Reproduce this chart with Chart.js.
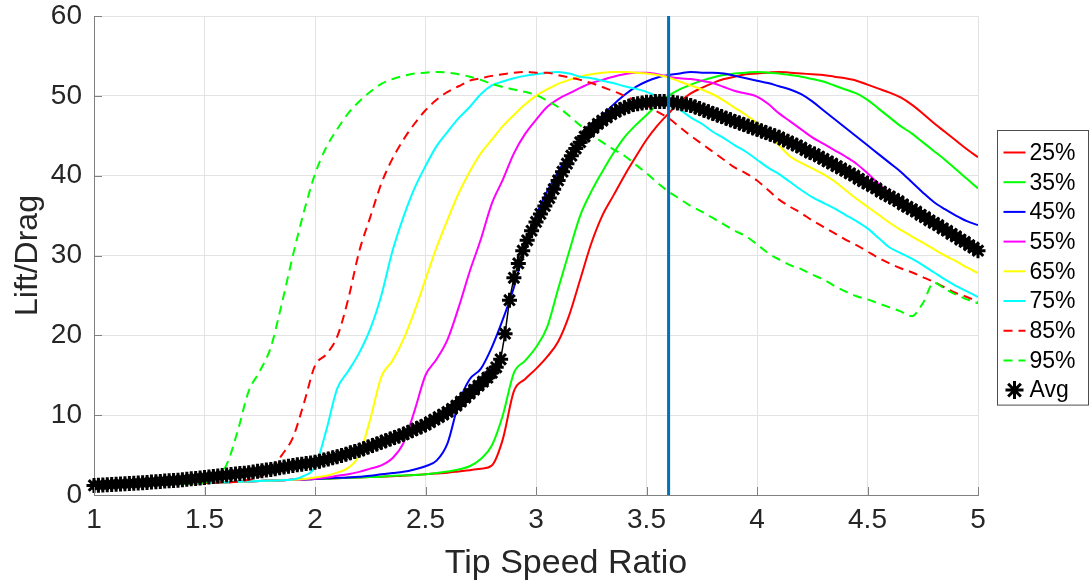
<!DOCTYPE html>
<html>
<head>
<meta charset="utf-8">
<title>Lift/Drag vs Tip Speed Ratio</title>
<script src="https://cdn.jsdelivr.net/npm/chart.js@4.4.1/dist/chart.umd.min.js"></script>
<style>
  html, body { margin: 0; padding: 0; background: #fff; }
  #chart { display: block; }
</style>
</head>
<body>
<canvas id="chart" width="1092" height="585"></canvas>
<script>
// Tip speed ratio samples for the span curves (step 0.05)
const TSR = [
  1.00,1.05,1.10,1.15,1.20,1.25,1.30,1.35,1.40,1.45,
  1.50,1.55,1.60,1.65,1.70,1.75,1.80,1.85,1.90,1.95,
  2.00,2.05,2.10,2.15,2.20,2.25,2.30,2.35,2.40,2.45,
  2.50,2.55,2.60,2.65,2.70,2.75,2.80,2.85,2.90,2.95,
  3.00,3.05,3.10,3.15,3.20,3.25,3.30,3.35,3.40,3.45,
  3.50,3.55,3.60,3.65,3.70,3.75,3.80,3.85,3.90,3.95,
  4.00,4.05,4.10,4.15,4.20,4.25,4.30,4.35,4.40,4.45,
  4.50,4.55,4.60,4.65,4.70,4.75,4.80,4.85,4.90,4.95,
  5.00
];

// Lift/Drag per span position
const L25 = [
  1.0,1.05,1.1,1.15,1.2,1.25,1.3,1.35,1.4,1.45,
  1.5,1.55,1.6,1.65,1.7,1.75,1.8,1.85,1.9,1.95,
  2.0,2.05,2.1,2.15,2.2,2.25,2.3,2.35,2.4,2.5,
  2.6,2.7,2.8,2.95,3.1,3.3,3.7,7.0,13.0,14.5,
  15.8,17.3,19.2,22.5,27.0,31.5,35.0,37.5,40.0,42.3,
  44.5,46.3,47.8,49.2,50.3,51.0,51.6,52.1,52.4,52.7,
  52.8,52.9,53.0,52.9,52.8,52.7,52.6,52.4,52.2,51.9,
  51.4,50.9,50.4,49.8,48.9,47.8,46.6,45.5,44.4,43.3,
  42.3
];
const L35 = [
  1.0,1.05,1.1,1.15,1.2,1.25,1.3,1.35,1.4,1.45,
  1.5,1.55,1.6,1.65,1.7,1.75,1.8,1.85,1.9,1.95,
  2.0,2.05,2.1,2.15,2.2,2.25,2.3,2.4,2.45,2.5,
  2.6,2.75,2.95,3.2,3.6,4.5,6.2,10.0,15.3,16.8,
  18.5,21.0,25.8,30.5,35.0,38.0,40.5,42.8,44.8,46.3,
  47.6,48.9,50.0,50.8,51.4,51.9,52.3,52.6,52.8,52.9,
  53.0,52.9,52.8,52.6,52.4,52.1,51.8,51.3,50.8,50.3,
  49.5,48.4,47.3,46.2,45.3,44.2,43.1,42.0,40.8,39.6,
  38.4
];
const L45 = [
  1.0,1.05,1.1,1.15,1.2,1.25,1.3,1.35,1.4,1.45,
  1.5,1.55,1.6,1.65,1.7,1.75,1.8,1.85,1.9,1.95,
  2.0,2.1,2.15,2.2,2.3,2.4,2.6,2.75,2.9,3.2,
  3.6,4.3,6.5,11.5,14.5,15.8,18.5,22.0,26.0,31.0,
  35.0,38.0,40.5,42.7,44.5,46.0,47.5,48.9,50.1,51.1,
  51.8,52.3,52.6,52.8,53.0,52.9,52.9,52.8,52.5,52.2,
  51.9,51.6,51.2,50.8,50.2,49.3,48.2,47.1,46.0,44.9,
  43.8,42.7,41.6,40.5,39.2,37.9,36.7,35.8,35.0,34.3,
  33.8
];
const L55 = [
  1.0,1.05,1.1,1.15,1.2,1.25,1.3,1.35,1.4,1.45,
  1.5,1.55,1.6,1.65,1.7,1.75,1.8,1.85,1.9,1.95,
  2.05,2.2,2.4,2.6,2.9,3.3,3.7,4.6,6.5,10.5,
  15.0,17.0,19.5,23.5,28.0,32.0,36.5,39.5,42.8,45.2,
  47.0,48.6,49.6,50.3,51.0,51.6,52.0,52.4,52.7,52.9,
  52.9,52.7,52.4,52.2,52.1,51.9,51.6,51.1,50.6,50.3,
  49.9,49.0,47.8,46.8,45.8,44.8,44.0,43.2,42.4,41.5,
  40.3,39.0,37.8,36.9,36.0,35.2,34.2,33.2,32.2,31.2,
  30.3
];
const L65 = [
  1.0,1.05,1.1,1.15,1.2,1.25,1.3,1.35,1.4,1.45,
  1.5,1.55,1.6,1.65,1.7,1.75,1.8,1.85,1.9,2.0,
  2.2,2.4,2.8,3.4,5.0,9.5,14.8,16.8,19.5,23.0,
  27.0,31.0,34.5,37.8,40.5,42.8,44.5,46.2,47.6,48.9,
  50.0,50.8,51.5,52.0,52.4,52.7,52.9,53.0,53.0,52.9,
  52.8,52.6,52.3,51.8,51.3,50.8,50.2,49.4,48.5,47.6,
  46.6,45.3,43.8,42.4,41.6,40.9,40.2,39.3,38.2,37.1,
  36.1,35.1,34.1,33.2,32.4,31.6,30.8,30.0,29.3,28.5,
  27.8
];
const L75 = [
  1.0,1.05,1.1,1.15,1.2,1.25,1.3,1.35,1.4,1.45,
  1.5,1.55,1.6,1.65,1.7,1.75,1.8,1.85,1.95,2.4,
  3.5,8.0,13.3,15.5,17.8,20.8,25.0,30.5,34.8,38.4,
  41.2,43.7,45.5,47.2,48.6,50.2,51.3,51.8,52.2,52.5,
  52.7,52.9,53.0,52.8,52.4,52.2,51.9,51.6,51.2,50.9,
  50.5,49.9,49.0,48.3,47.3,46.5,45.5,44.7,43.8,43.0,
  42.0,41.0,40.2,39.2,38.2,37.3,36.6,35.9,35.1,34.3,
  33.4,32.2,31.0,30.3,29.6,28.8,27.9,27.0,26.2,25.5,
  24.8
];
const L85 = [
  1.0,1.05,1.1,1.15,1.2,1.25,1.3,1.35,1.4,1.45,
  1.5,1.55,1.6,1.65,1.9,2.3,3.2,5.0,7.2,11.5,
  16.2,17.6,19.8,24.5,30.5,34.8,39.0,42.1,44.5,46.5,
  48.2,49.5,50.5,51.2,51.9,52.2,52.5,52.7,52.9,53.0,
  52.9,52.9,52.6,52.3,52.0,51.6,51.1,50.6,50.0,49.4,
  48.8,48.0,47.2,46.1,45.0,44.0,43.0,42.0,41.0,40.3,
  39.4,38.2,37.0,36.1,35.3,34.4,33.6,32.8,32.0,31.3,
  30.5,29.7,29.0,28.4,27.9,27.3,26.7,26.0,25.3,24.8,
  24.2
];
const L95 = [
  1.0,1.05,1.1,1.15,1.2,1.25,1.3,1.35,1.4,1.45,
  1.55,2.2,3.8,8.0,13.0,15.5,18.5,24.0,30.0,35.5,
  40.2,43.5,45.8,47.8,49.3,50.5,51.5,52.1,52.5,52.8,
  52.9,53.0,52.9,52.7,52.4,52.0,51.5,51.1,50.8,50.5,
  50.1,49.4,48.6,47.5,46.3,45.2,44.2,43.3,42.5,41.4,
  40.3,39.1,38.0,37.1,36.2,35.5,34.7,33.9,33.1,32.4,
  31.4,30.3,29.5,28.8,28.3,27.6,27.0,26.2,25.5,24.9,
  24.5,24.0,23.5,23.0,22.4,24.0,26.6,25.8,25.1,24.5,
  24.0
];

// Average curve is sampled finer (step 0.02)
const TSR_AVG = [
  1.00,1.02,1.04,1.06,1.08,1.10,1.12,1.14,1.16,1.18,
  1.20,1.22,1.24,1.26,1.28,1.30,1.32,1.34,1.36,1.38,
  1.40,1.42,1.44,1.46,1.48,1.50,1.52,1.54,1.56,1.58,
  1.60,1.62,1.64,1.66,1.68,1.70,1.72,1.74,1.76,1.78,
  1.80,1.82,1.84,1.86,1.88,1.90,1.92,1.94,1.96,1.98,
  2.00,2.02,2.04,2.06,2.08,2.10,2.12,2.14,2.16,2.18,
  2.20,2.22,2.24,2.26,2.28,2.30,2.32,2.34,2.36,2.38,
  2.40,2.42,2.44,2.46,2.48,2.50,2.52,2.54,2.56,2.58,
  2.60,2.62,2.64,2.66,2.68,2.70,2.72,2.74,2.76,2.78,
  2.80,2.82,2.84,2.86,2.88,2.90,2.92,2.94,2.96,2.98,
  3.00,3.02,3.04,3.06,3.08,3.10,3.12,3.14,3.16,3.18,
  3.20,3.22,3.24,3.26,3.28,3.30,3.32,3.34,3.36,3.38,
  3.40,3.42,3.44,3.46,3.48,3.50,3.52,3.54,3.56,3.58,
  3.60,3.62,3.64,3.66,3.68,3.70,3.72,3.74,3.76,3.78,
  3.80,3.82,3.84,3.86,3.88,3.90,3.92,3.94,3.96,3.98,
  4.00,4.02,4.04,4.06,4.08,4.10,4.12,4.14,4.16,4.18,
  4.20,4.22,4.24,4.26,4.28,4.30,4.32,4.34,4.36,4.38,
  4.40,4.42,4.44,4.46,4.48,4.50,4.52,4.54,4.56,4.58,
  4.60,4.62,4.64,4.66,4.68,4.70,4.72,4.74,4.76,4.78,
  4.80,4.82,4.84,4.86,4.88,4.90,4.92,4.94,4.96,4.98,
  5.00
];
const AVG = [
  1.20,1.23,1.26,1.29,1.32,1.35,1.38,1.41,1.44,1.47,
  1.50,1.54,1.58,1.62,1.66,1.70,1.74,1.78,1.82,1.86,
  1.90,1.96,2.02,2.08,2.14,2.20,2.26,2.32,2.38,2.44,
  2.50,2.56,2.62,2.68,2.74,2.80,2.88,2.96,3.04,3.12,
  3.20,3.30,3.40,3.50,3.60,3.70,3.78,3.86,3.94,4.02,
  4.10,4.24,4.38,4.52,4.66,4.80,4.96,5.12,5.28,5.44,
  5.60,5.80,6.00,6.20,6.40,6.60,6.80,7.00,7.20,7.40,
  7.60,7.84,8.08,8.32,8.56,8.80,9.12,9.44,9.76,10.08,
  10.4,10.8,11.2,11.7,12.2,12.7,13.2,13.7,14.2,14.7,
  15.3,16.0,17.0,20.2,24.4,27.2,29.0,30.6,31.9,33.1,
  34.2,35.2,36.2,37.2,38.3,39.4,40.5,41.5,42.5,43.4,
  44.2,44.9,45.5,46.0,46.5,46.9,47.3,47.7,48.0,48.3,
  48.5,48.7,48.9,49.0,49.1,49.2,49.2,49.3,49.3,49.3,
  49.2,49.2,49.1,49.0,48.9,48.8,48.6,48.4,48.2,48.0,
  47.8,47.6,47.4,47.2,47.0,46.8,46.6,46.4,46.2,46.0,
  45.8,45.6,45.4,45.2,45.0,44.8,44.5,44.3,44.0,43.8,
  43.5,43.2,42.9,42.7,42.4,42.1,41.8,41.5,41.2,40.9,
  40.6,40.3,40.0,39.6,39.3,39.0,38.7,38.4,38.0,37.7,
  37.4,37.1,36.8,36.4,36.1,35.8,35.5,35.1,34.8,34.4,
  34.1,33.8,33.4,33.1,32.7,32.4,32.0,31.7,31.3,31.0,
  30.6
];

const SERIES_LABELS = ['25%', '35%', '45%', '55%', '65%', '75%', '85%', '95%'];
const SERIES_VALUES = [L25, L35, L45, L55, L65, L75, L85, L95];
const AVG_LABEL = 'Avg';

// Marked operating point (vertical line)
const MARK_TSR = 3.6;

// Axis ranges and titles
const X_MIN = 1, X_MAX = 5, X_STEP = 0.5;
const Y_MIN = 0, Y_MAX = 60, Y_STEP = 10;
const X_TITLE = 'Tip Speed Ratio';
const Y_TITLE = 'Lift/Drag';

(function() {
    const FONT = '"Liberation Sans", Arial, Helvetica, sans-serif';
    const AXIS_COLOR = '#808080';
    const TEXT_COLOR = '#262626';

    // Line styles, same order as SERIES_LABELS
    const STYLES = [
        { color: '#ff0000', dash: [] },
        { color: '#00ff00', dash: [] },
        { color: '#0000ff', dash: [] },
        { color: '#ff00ff', dash: [] },
        { color: '#ffff00', dash: [] },
        { color: '#00ffff', dash: [] },
        { color: '#ff0000', dash: [9, 6] },
        { color: '#00ff00', dash: [9, 6] },
    ];

    const toPoints = (xs, ys) => xs.map((x, i) => ({ x, y: ys[i] }));

    const datasets = SERIES_LABELS.map((label, i) => ({
        label,
        data: toPoints(TSR, SERIES_VALUES[i]),
        borderColor: STYLES[i].color,
        borderDash: STYLES[i].dash,
        borderWidth: 2,
        pointRadius: 0,
        cubicInterpolationMode: 'monotone',
        order: 10 - i,
        inLegend: true,
    }));

    datasets.push({
        label: AVG_LABEL,
        data: toPoints(TSR_AVG, AVG),
        borderColor: '#000',
        borderWidth: 1.5,
        pointStyle: 'star',
        pointRadius: 7.5,
        pointBorderWidth: 3,
        pointBorderColor: '#000',
        pointBackgroundColor: '#000',
        clip: false,
        order: 1,
        inLegend: true,
    });

    datasets.push({
        label: '',
        data: [{ x: MARK_TSR, y: Y_MIN }, { x: MARK_TSR, y: Y_MAX }],
        borderColor: '#0072bd',
        borderWidth: 3,
        pointRadius: 0,
        order: 0,
        inLegend: false,
    });

    // MATLAB style ticks pointing into the axes
    const inwardTicks = {
        id: 'inwardTicks',
        afterDatasetsDraw(chart) {
            const { ctx, chartArea, scales } = chart;
            ctx.save();
            ctx.strokeStyle = AXIS_COLOR;
            ctx.lineWidth = 1;
            ctx.beginPath();
            scales.x.ticks.forEach(t => {
                const px = Math.round(scales.x.getPixelForValue(t.value)) + 0.5;
                ctx.moveTo(px, chartArea.bottom);
                ctx.lineTo(px, chartArea.bottom - 8);
            });
            scales.y.ticks.forEach(t => {
                const py = Math.round(scales.y.getPixelForValue(t.value)) + 0.5;
                ctx.moveTo(chartArea.left, py);
                ctx.lineTo(chartArea.left + 8, py);
            });
            ctx.stroke();
            ctx.restore();
        }
    };

    // x-axis title sits a little right of the axes centre in the original
    const xTitle = {
        id: 'xTitle',
        afterDraw(chart) {
            const { ctx } = chart;
            ctx.save();
            ctx.font = '34px ' + FONT;
            ctx.fillStyle = TEXT_COLOR;
            ctx.textAlign = 'center';
            ctx.textBaseline = 'middle';
            ctx.fillText(X_TITLE, 566, 564);
            ctx.restore();
        }
    };

    // Boxed legend at the right of the axes
    const boxedLegend = {
        id: 'boxedLegend',
        afterDraw(chart) {
            const { ctx, chartArea } = chart;
            const items = chart.data.datasets.filter(ds => ds.inLegend);
            const left = chartArea.right + 19.5;
            const top = 130.5;
            const width = 91;
            const rowH = 29.7;
            const height = 22 + (items.length - 1) * rowH + 15;

            ctx.save();
            ctx.fillStyle = '#fff';
            ctx.fillRect(left, top, width, height);
            ctx.strokeStyle = '#4d4d4d';
            ctx.lineWidth = 1;
            ctx.strokeRect(left, top, width, height);

            ctx.font = '23px ' + FONT;
            ctx.textBaseline = 'middle';
            ctx.textAlign = 'left';
            items.forEach((ds, i) => {
                const cy = top + 22 + i * rowH;
                if (ds.pointStyle === 'star') {
                    ctx.strokeStyle = '#000';
                    ctx.lineWidth = 3;
                    ctx.setLineDash([]);
                    Chart.helpers.drawPoint(ctx, { pointStyle: 'star', radius: 9, borderWidth: 3 }, left + 17, cy);
                } else {
                    ctx.strokeStyle = ds.borderColor;
                    ctx.lineWidth = 2;
                    ctx.setLineDash(ds.borderDash || []);
                    ctx.beginPath();
                    ctx.moveTo(left + 6, cy);
                    ctx.lineTo(left + 28, cy);
                    ctx.stroke();
                    ctx.setLineDash([]);
                }
                ctx.fillStyle = '#000';
                ctx.fillText(ds.label, left + 32, cy + 1);
            });
            ctx.restore();
        }
    };

    const ctx = document.getElementById('chart').getContext('2d');
    new Chart(ctx, {
        type: 'line',
        data: { datasets },
        options: {
            responsive: false,
            animation: false,
            events: [],
            layout: { padding: { left: 0, right: 114, top: 16, bottom: 0 } },
            plugins: {
                legend: { display: false },
                tooltip: { enabled: false },
            },
            scales: {
                x: {
                    type: 'linear',
                    min: X_MIN,
                    max: X_MAX,
                    afterFit: (scale) => {
                        scale.height = 90;
                        scale.paddingLeft = 0;
                        scale.paddingRight = 0;
                    },
                    ticks: {
                        stepSize: X_STEP,
                        color: TEXT_COLOR,
                        font: { family: FONT, size: 28 },
                        padding: 8,
                        maxRotation: 0,
                        callback: (v) => String(v),
                    },
                    grid: { color: '#e3e3e3', drawTicks: false },
                    border: { color: AXIS_COLOR, width: 1 },
                    title: { display: false, text: X_TITLE },
                },
                y: {
                    type: 'linear',
                    min: Y_MIN,
                    max: Y_MAX,
                    afterFit: (scale) => {
                        scale.width = 94;
                        scale.paddingTop = 0;
                        scale.paddingBottom = 0;
                    },
                    ticks: {
                        stepSize: Y_STEP,
                        color: TEXT_COLOR,
                        font: { family: FONT, size: 28 },
                        padding: 12,
                    },
                    grid: { color: '#e3e3e3', drawTicks: false },
                    border: { color: AXIS_COLOR, width: 1 },
                    title: {
                        display: true,
                        text: Y_TITLE,
                        color: TEXT_COLOR,
                        font: { family: FONT, size: 32 },
                        padding: { top: 9, bottom: 0 },
                    },
                },
            },
        },
        plugins: [inwardTicks, xTitle, boxedLegend],
    });
})();
</script>
</body>
</html>
